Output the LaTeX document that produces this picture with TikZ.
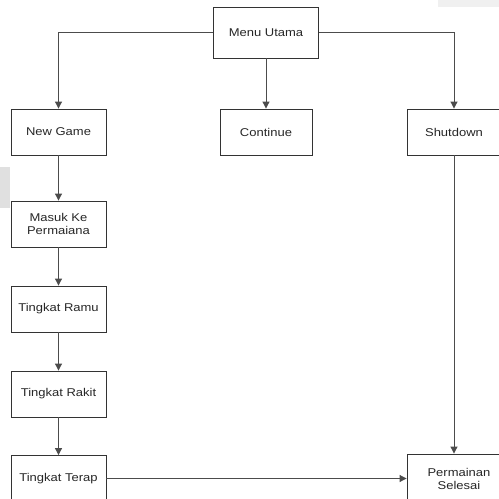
\documentclass[tikz,border=0pt]{standalone}
\usepackage{xcolor}
\usepackage{fontspec}
\setmainfont{Liberation Sans}[FakeStretch=1.15]
\usepackage{tikz}
\usetikzlibrary{calc,arrows.meta}

\begin{document}
\begin{tikzpicture}[x=1pt,y=-1pt,
		box/.style={draw=black!80,line width=0.9pt,minimum width=95pt,minimum height=46pt,
			inner sep=0pt,align=center,text=black!85,font=\fontsize{11.3}{12.5}\selectfont},
		flow/.style={draw=black!70,line width=1pt,-{Triangle[width=7pt,length=7pt]}}]
		\useasboundingbox (0,0) rectangle (499,499);
		\fill[black!12] (0,167) rectangle (10,208);
		\fill[black!6] (438,0) rectangle (499,7);

		\node[box,minimum width=105pt,minimum height=51pt] (menu) at (266,32.5) {Menu Utama};
		\node[box] (newgame) at (58.5,132) {New Game};
		\node[box,minimum width=92pt] (cont) at (266,132) {Continue};
		\node[box,minimum width=94pt] (shut) at (454,132) {Shutdown};
		\node[box] (masuk) at (58.5,224) {Masuk Ke\\Permaiana};
		\node[box] (ramu) at (58.5,309) {Tingkat Ramu};
		\node[box] (rakit) at (58.5,394) {Tingkat Rakit};
		\node[box] (terap) at (58.5,478.5) {Tingkat Terap};
		\node[box,minimum width=104pt,minimum height=50pt] (selesai) at (459,479) {Permainan\\Selesai};

		\draw[flow] (menu.west) -| (newgame.north);
		\draw[flow] (menu.south) -- (cont.north);
		\draw[flow] (menu.east) -| (shut.north);
		\draw[flow] (newgame) -- (masuk);
		\draw[flow] (masuk) -- (ramu);
		\draw[flow] (ramu) -- (rakit);
		\draw[flow] (rakit) -- (terap);
		\draw[flow] (shut.south) -- (shut.south |- selesai.north);
		\draw[flow] (terap.east) -- (terap.east -| selesai.west);
	\end{tikzpicture}
\end{document}
